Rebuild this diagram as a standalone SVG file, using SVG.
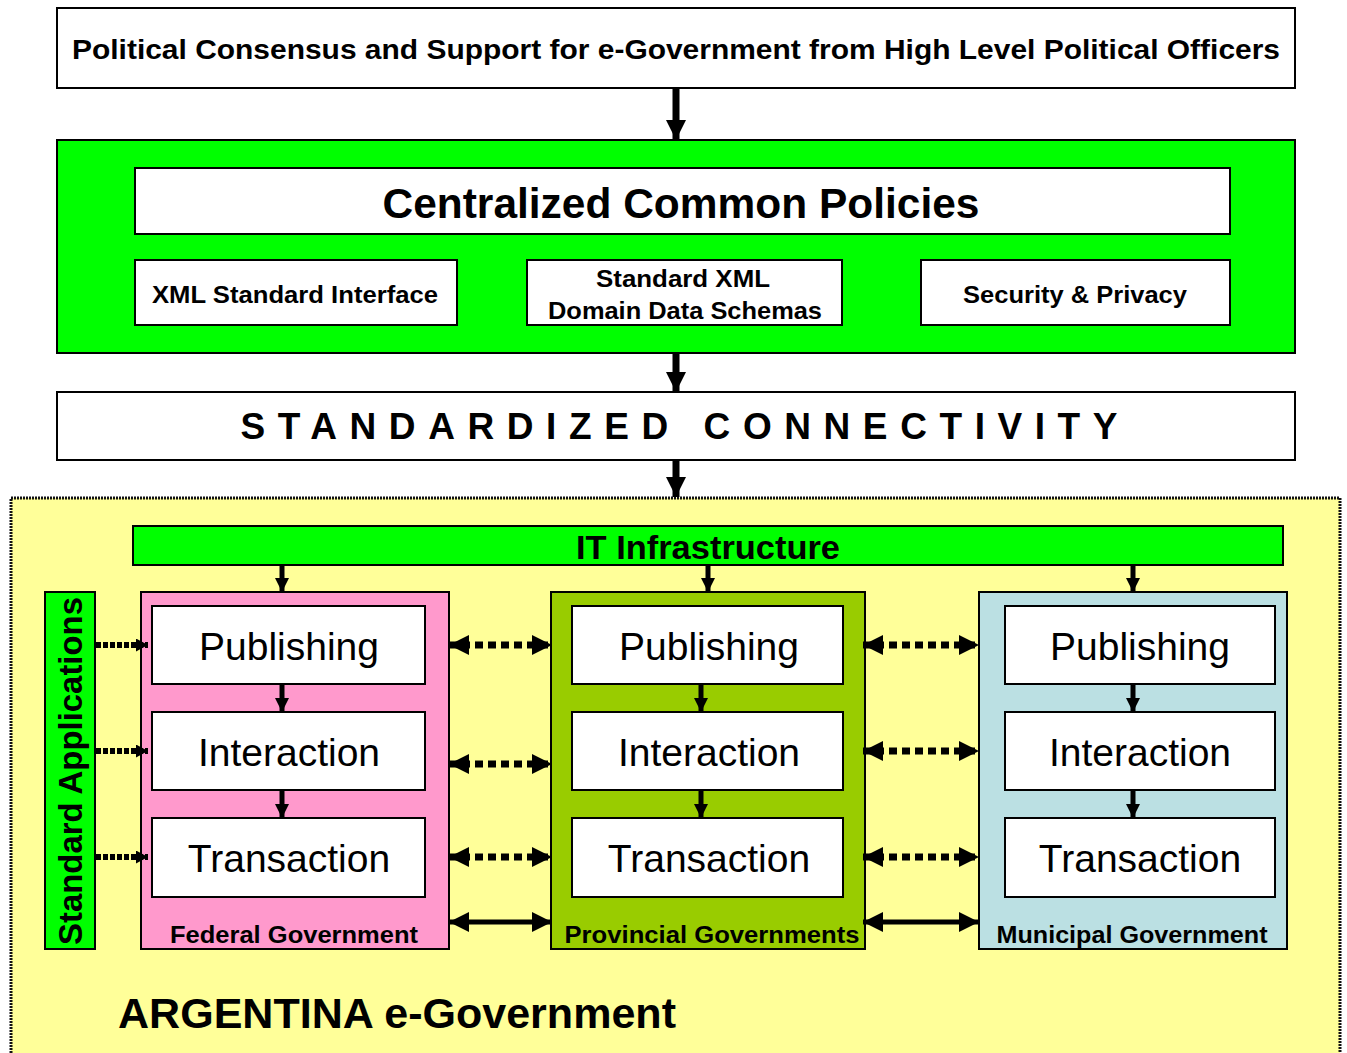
<svg xmlns="http://www.w3.org/2000/svg" width="1347" height="1053" viewBox="0 0 1347 1053">
<defs>
<style>
.box{fill:#fff;stroke:#000;stroke-width:2}
.bt{font-family:"Liberation Sans",Arial,sans-serif;font-weight:bold;fill:#000;text-anchor:middle}
.rt{font-family:"Liberation Sans",Arial,sans-serif;fill:#000;text-anchor:middle;font-size:39px}
.panel{stroke:#000;stroke-width:2}
.big{stroke:#000;stroke-width:7;fill:none}
.small{stroke:#000;stroke-width:5;fill:none}
.dot{stroke:#000;stroke-width:7;fill:none;stroke-dasharray:8 5}
.dotsa{stroke:#000;stroke-width:6;fill:none;stroke-dasharray:5 2}
.solid{stroke:#000;stroke-width:5;fill:none}
</style>
<marker id="hbig" markerUnits="userSpaceOnUse" markerWidth="20" markerHeight="20" refX="20" refY="10" orient="auto-start-reverse" viewBox="0 0 20 20"><path d="M0,0 L20,10 L0,20 z" fill="#000"/></marker>
<marker id="hsm" markerUnits="userSpaceOnUse" markerWidth="14" markerHeight="14" refX="14" refY="7" orient="auto" viewBox="0 0 14 14"><path d="M0,0 L14,7 L0,14 z" fill="#000"/></marker>
<marker id="hsa" markerUnits="userSpaceOnUse" markerWidth="12" markerHeight="13" refX="12" refY="6.5" orient="auto" viewBox="0 0 12 13"><path d="M0,0 L12,6.5 L0,13 z" fill="#000"/></marker>
</defs>
<rect width="1347" height="1053" fill="#fff"/>

<g id="political">
<rect class="box" x="57" y="8" width="1238" height="80"/>
<text class="bt" x="676" y="59" font-size="28" textLength="1208" lengthAdjust="spacingAndGlyphs">Political Consensus and Support for e-Government from High Level Political Officers</text>
</g>

<g id="policies">
<rect class="panel" x="57" y="140" width="1238" height="213" fill="#00FF00"/>
<rect class="box" x="135" y="168" width="1095" height="66"/>
<text class="bt" x="681" y="218" font-size="43" textLength="597" lengthAdjust="spacingAndGlyphs">Centralized Common Policies</text>
</g>
<g id="xml-interface">
<rect class="box" x="135" y="260" width="322" height="65"/>
<text class="bt" x="295" y="303" font-size="24" textLength="286" lengthAdjust="spacingAndGlyphs">XML Standard Interface</text>
</g>
<g id="xml-schemas">
<rect class="box" x="527" y="260" width="315" height="65"/>
<text class="bt" x="683" y="287" font-size="24" textLength="174" lengthAdjust="spacingAndGlyphs">Standard XML</text>
<text class="bt" x="685" y="319" font-size="24" textLength="274" lengthAdjust="spacingAndGlyphs">Domain Data Schemas</text>
</g>
<g id="security">
<rect class="box" x="921" y="260" width="309" height="65"/>
<text class="bt" x="1075" y="303" font-size="24" textLength="224" lengthAdjust="spacingAndGlyphs">Security &amp; Privacy</text>
</g>

<g id="connectivity">
<rect class="box" x="57" y="392" width="1238" height="68"/>
<text class="bt" x="679" y="439" font-size="37" textLength="877" lengthAdjust="spacing">STANDARDIZED  CONNECTIVITY</text>
</g>

<g id="argentina">
<rect x="11" y="498" width="1329" height="570" fill="#FFFF99" stroke="#111" stroke-width="3" stroke-dasharray="2 1"/>
<text class="bt" x="118" y="1028" font-size="42" style="text-anchor:start" textLength="558" lengthAdjust="spacingAndGlyphs">ARGENTINA e-Government</text>
</g>

<g id="it-infra">
<rect class="panel" x="133" y="526" width="1150" height="39" fill="#00FF00"/>
<text class="bt" x="708" y="559" font-size="34" textLength="264" lengthAdjust="spacingAndGlyphs">IT Infrastructure</text>
</g>

<g id="standard-apps">
<rect class="panel" x="45" y="592" width="50" height="357" fill="#00FF00"/>
<text class="bt" transform="translate(82,771) rotate(-90)" font-size="33" textLength="348" lengthAdjust="spacingAndGlyphs">Standard Applications</text>
</g>

<g id="federal">
<rect class="panel" x="141" y="592" width="308" height="357" fill="#FF99CC"/>
<text class="bt" x="294" y="943" font-size="24" textLength="248" lengthAdjust="spacingAndGlyphs">Federal Government</text>
</g>
<g id="fed-publishing"><rect class="box" x="152" y="606" width="273" height="78"/><text class="rt" x="289" y="660">Publishing</text></g>
<g id="fed-interaction"><rect class="box" x="152" y="712" width="273" height="78"/><text class="rt" x="289" y="766">Interaction</text></g>
<g id="fed-transaction"><rect class="box" x="152" y="818" width="273" height="79"/><text class="rt" x="289" y="872">Transaction</text></g>

<g id="provincial">
<rect class="panel" x="551" y="592" width="314" height="357" fill="#99CC00"/>
<text class="bt" x="712" y="943" font-size="24" textLength="295" lengthAdjust="spacingAndGlyphs">Provincial Governments</text>
</g>
<g id="prov-publishing"><rect class="box" x="572" y="606" width="271" height="78"/><text class="rt" x="709" y="660">Publishing</text></g>
<g id="prov-interaction"><rect class="box" x="572" y="712" width="271" height="78"/><text class="rt" x="709" y="766">Interaction</text></g>
<g id="prov-transaction"><rect class="box" x="572" y="818" width="271" height="79"/><text class="rt" x="709" y="872">Transaction</text></g>

<g id="municipal">
<rect class="panel" x="979" y="592" width="308" height="357" fill="#BBE0E3"/>
<text class="bt" x="1132" y="943" font-size="24" textLength="271" lengthAdjust="spacingAndGlyphs">Municipal Government</text>
</g>
<g id="mun-publishing"><rect class="box" x="1005" y="606" width="270" height="78"/><text class="rt" x="1140" y="660">Publishing</text></g>
<g id="mun-interaction"><rect class="box" x="1005" y="712" width="270" height="78"/><text class="rt" x="1140" y="766">Interaction</text></g>
<g id="mun-transaction"><rect class="box" x="1005" y="818" width="270" height="79"/><text class="rt" x="1140" y="872">Transaction</text></g>

<g id="connectors">
<line class="big" x1="676" y1="89" x2="676" y2="140" marker-end="url(#hbig)"/>
<line class="big" x1="676" y1="353" x2="676" y2="392" marker-end="url(#hbig)"/>
<line class="big" x1="676" y1="460" x2="676" y2="497" marker-end="url(#hbig)"/>

<line class="small" x1="282" y1="565" x2="282" y2="592" marker-end="url(#hsm)"/>
<line class="small" x1="708" y1="565" x2="708" y2="592" marker-end="url(#hsm)"/>
<line class="small" x1="1133" y1="565" x2="1133" y2="592" marker-end="url(#hsm)"/>

<line class="small" x1="282" y1="684" x2="282" y2="712" marker-end="url(#hsm)"/>
<line class="small" x1="282" y1="790" x2="282" y2="818" marker-end="url(#hsm)"/>
<line class="small" x1="701" y1="684" x2="701" y2="712" marker-end="url(#hsm)"/>
<line class="small" x1="701" y1="790" x2="701" y2="818" marker-end="url(#hsm)"/>
<line class="small" x1="1133" y1="684" x2="1133" y2="712" marker-end="url(#hsm)"/>
<line class="small" x1="1133" y1="790" x2="1133" y2="818" marker-end="url(#hsm)"/>

<line class="dotsa" x1="96" y1="645" x2="148" y2="645" marker-end="url(#hsa)"/>
<line class="dotsa" x1="96" y1="751" x2="148" y2="751" marker-end="url(#hsa)"/>
<line class="dotsa" x1="96" y1="857" x2="148" y2="857" marker-end="url(#hsa)"/>

<line class="dot" x1="449" y1="645" x2="552" y2="645" marker-start="url(#hbig)" marker-end="url(#hbig)"/>
<line class="dot" x1="449" y1="764" x2="552" y2="764" marker-start="url(#hbig)" marker-end="url(#hbig)"/>
<line class="dot" x1="449" y1="857" x2="552" y2="857" marker-start="url(#hbig)" marker-end="url(#hbig)"/>
<line class="solid" x1="449" y1="922" x2="552" y2="922" marker-start="url(#hbig)" marker-end="url(#hbig)"/>

<line class="dot" x1="863" y1="645" x2="979" y2="645" marker-start="url(#hbig)" marker-end="url(#hbig)"/>
<line class="dot" x1="863" y1="751" x2="979" y2="751" marker-start="url(#hbig)" marker-end="url(#hbig)"/>
<line class="dot" x1="863" y1="857" x2="979" y2="857" marker-start="url(#hbig)" marker-end="url(#hbig)"/>
<line class="solid" x1="863" y1="922" x2="979" y2="922" marker-start="url(#hbig)" marker-end="url(#hbig)"/>
</g>
</svg>
